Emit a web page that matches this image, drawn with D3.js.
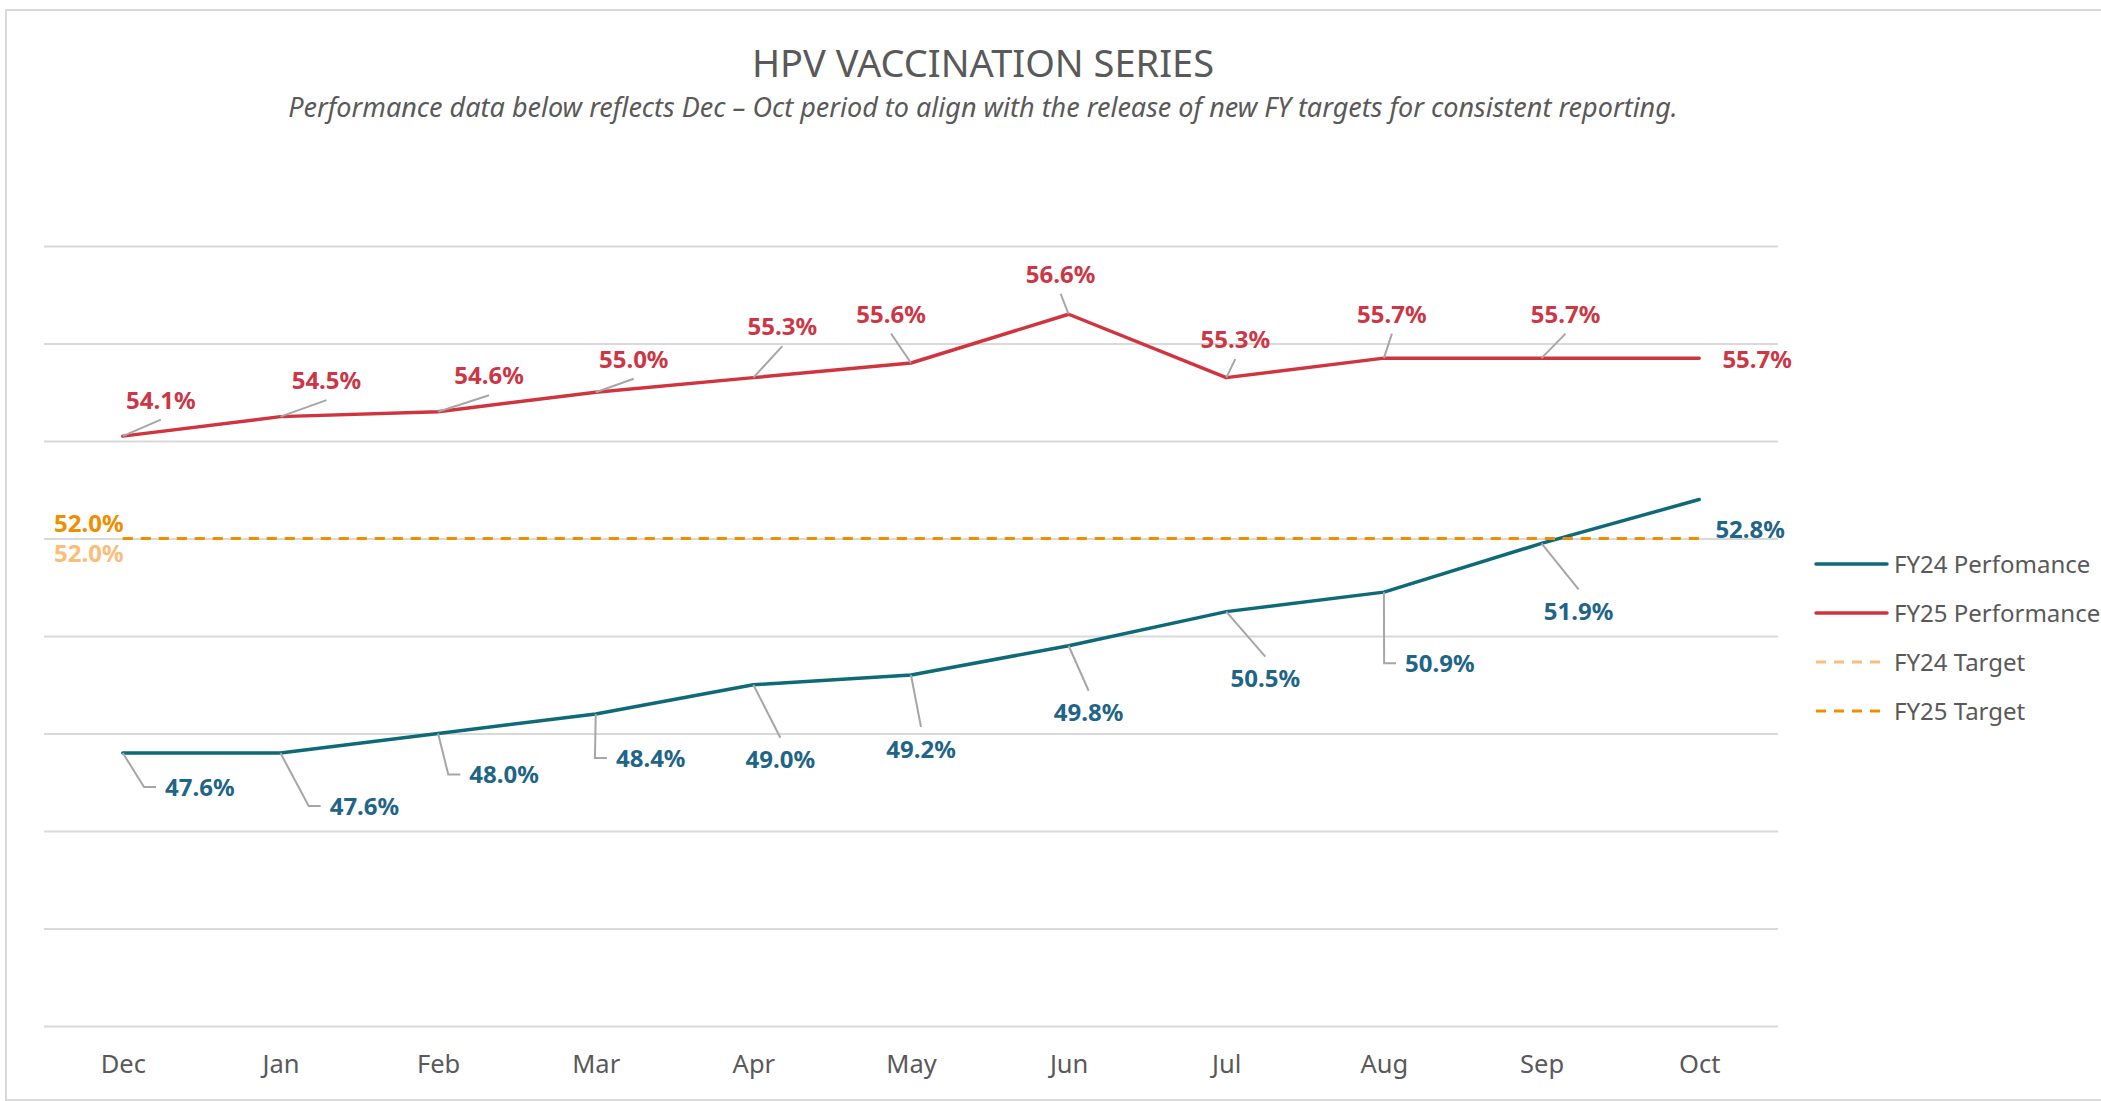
<!DOCTYPE html>
<html>
<head>
<meta charset="utf-8">
<script src="https://cdn.jsdelivr.net/npm/d3@7/dist/d3.min.js"></script>
<style>
  html, body { margin: 0; padding: 0; background: #fff; }
  svg { display: block; font-family: "Noto Sans", "Open Sans", sans-serif; }
</style>
</head>
<body>
<div id="chart"></div>
<script>
let width = 2101;
let height = 1101;

// chart data
let months = ["Dec", "Jan", "Feb", "Mar", "Apr", "May", "Jun", "Jul", "Aug", "Sep", "Oct"];
let fy24Perf = [47.6, 47.6, 48.0, 48.4, 49.0, 49.2, 49.8, 50.5, 50.9, 51.9, 52.8];
let fy25Perf = [54.1, 54.5, 54.6, 55.0, 55.3, 55.6, 56.6, 55.3, 55.7, 55.7, 55.7];
let fy24Target = [52.0, 52.0, 52.0, 52.0, 52.0, 52.0, 52.0, 52.0, 52.0, 52.0, 52.0];
let fy25Target = [52.0, 52.0, 52.0, 52.0, 52.0, 52.0, 52.0, 52.0, 52.0, 52.0, 52.0];
let gridTicks = [42, 44, 46, 48, 50, 52, 54, 56, 58];
let seriesNames = ["FY24 Perfomance", "FY25 Performance", "FY24 Target", "FY25 Target"];

// label placement (pixel offset of label centre from its point, and leader type)
let fy25LabelPos = [
  [38, -36, "line"], [46, -36, "line"], [51, -36, "line"], [38, -33, "line"],
  [29, -51, "line"], [-20, -49, "line"], [-8, -40, "line"], [9, -38, "line"],
  [8, -44, "line"], [24, -44, "line"], [58, 1, "none"]
];
let fy24LabelPos = [
  [77, 34, "elbow"], [84, 53, "elbow"], [66, 41, "elbow"], [55, 44, "elbow"],
  [27, 75, "line"], [10, 74, "line"], [20, 67, "line"], [39, 67, "line"],
  [56, 71, "elbow"], [37, 68, "line"], [51, 30, "none"]
];

let colors = {
  fy24: "#0F6A78", fy24Label: "#1F6587",
  fy25: "#D0343F", fy25Label: "#CC3645",
  fy24Target: "#F9BE7A", fy25Target: "#F18D00",
  grid: "#D9D9D9", text: "#595959", leader: "#A6A6A6"
};

let svg = d3.select("#chart").append("svg")
    .attr("width", width)
    .attr("height", height);

// outer frame
svg.append("rect")
    .attr("x", 6).attr("y", 10)
    .attr("width", width + 20).attr("height", height - 11)
    .attr("fill", "none")
    .attr("stroke", colors.grid)
    .attr("stroke-width", 2);

// titles
svg.append("text")
    .attr("x", 983).attr("y", 77)
    .attr("text-anchor", "middle")
    .attr("font-size", 38)
    .attr("fill", colors.text)
    .text("HPV VACCINATION SERIES");

svg.append("text")
    .attr("x", 983).attr("y", 116.5)
    .attr("text-anchor", "middle")
    .attr("font-size", 27)
    .attr("font-style", "italic")
    .attr("fill", colors.text)
    .text("Performance data below reflects Dec \u2013 Oct period to align with the release of new FY targets for consistent reporting.");

let xScale = d3.scalePoint()
    .domain(months)
    .range([44, 1778])
    .padding(0.5);

let yScale = d3.scaleLinear()
    .domain([42, 58])
    .range([1026, 246]);

// gridlines
svg.append("g")
    .attr("class", "grid")
    .attr("transform", "translate(44,0)")
    .call(d3.axisLeft(yScale).tickValues(gridTicks).tickSize(-(1778 - 44)).tickFormat(""))
    .call(g => g.select(".domain").remove())
    .call(g => g.selectAll(".tick line").attr("stroke", colors.grid).attr("stroke-width", 2));

// x axis labels
svg.append("g")
    .attr("transform", "translate(0,1026)")
    .call(d3.axisBottom(xScale).tickSize(0).tickPadding(0))
    .call(g => g.select(".domain").remove())
    .call(g => g.selectAll("text")
        .attr("y", 47)
        .attr("dy", 0)
        .attr("font-family", "Noto Sans")
        .attr("font-size", 25.5)
        .attr("fill", colors.text));

let line = d3.line()
    .x((d, i) => xScale(months[i]))
    .y(d => yScale(d));

// series lines
svg.append("path").datum(fy24Perf)
    .attr("d", line).attr("fill", "none")
    .attr("stroke", colors.fy24).attr("stroke-width", 3.5)
    .attr("stroke-linejoin", "round").attr("stroke-linecap", "round");

svg.append("path").datum(fy25Perf)
    .attr("d", line).attr("fill", "none")
    .attr("stroke", colors.fy25).attr("stroke-width", 3.5)
    .attr("stroke-linejoin", "round").attr("stroke-linecap", "round");

svg.append("path").datum(fy24Target)
    .attr("d", line).attr("fill", "none")
    .attr("stroke", colors.fy24Target).attr("stroke-width", 3)
    .attr("stroke-dasharray", "10,8");

svg.append("path").datum(fy25Target)
    .attr("d", line).attr("fill", "none")
    .attr("stroke", colors.fy25Target).attr("stroke-width", 3)
    .attr("stroke-dasharray", "10,8");

let fmt = d => d.toFixed(1) + "%";

// data labels with leader lines
function drawLabels(values, pos, color) {
  let g = svg.append("g");
  values.forEach(function(v, i) {
    let px = xScale(months[i]);
    let py = yScale(v);
    let cx = px + pos[i][0];
    let cy = py + pos[i][1];
    let kind = pos[i][2];

    let t = g.append("text")
        .attr("x", cx)
        .attr("y", cy + 8.5)
        .attr("text-anchor", "middle")
        .attr("font-size", 24)
        .attr("font-weight", 700)
        .attr("fill", color)
        .text(fmt(v));

    let w = t.node().getComputedTextLength();
    let left = cx - w / 2;

    if (kind == "line") {
      let ey = cy < py ? cy + 19.5 : cy - 22;
      g.insert("line", "text")
          .attr("x1", px).attr("y1", py)
          .attr("x2", cx).attr("y2", ey)
          .attr("stroke", colors.leader).attr("stroke-width", 2);
    } else if (kind == "elbow") {
      g.insert("path", "text")
          .attr("d", `M${px},${py}L${left - 21},${cy}L${left - 9},${cy}`)
          .attr("fill", "none")
          .attr("stroke", colors.leader).attr("stroke-width", 2);
    }
  });
}

drawLabels(fy25Perf, fy25LabelPos, colors.fy25Label);
drawLabels(fy24Perf, fy24LabelPos, colors.fy24Label);

// target labels at first point
svg.append("text")
    .attr("x", xScale(months[0]) - 34)
    .attr("y", yScale(fy25Target[0]) - 15.5 + 8.5)
    .attr("text-anchor", "middle")
    .attr("font-size", 24).attr("font-weight", 700)
    .attr("fill", colors.fy25Target)
    .text(fmt(fy25Target[0]));

svg.append("text")
    .attr("x", xScale(months[0]) - 34)
    .attr("y", yScale(fy24Target[0]) + 14.5 + 8.5)
    .attr("text-anchor", "middle")
    .attr("font-size", 24).attr("font-weight", 700)
    .attr("fill", colors.fy24Target)
    .text(fmt(fy24Target[0]));

// legend
let legendStyle = [
  { color: colors.fy24, dash: null },
  { color: colors.fy25, dash: null },
  { color: colors.fy24Target, dash: "10,8" },
  { color: colors.fy25Target, dash: "10,8" }
];

let legend = svg.append("g").attr("transform", "translate(1816,564)");

seriesNames.forEach(function(name, i) {
  let row = legend.append("g").attr("transform", `translate(0,${i * 49})`);
  row.append("line")
      .attr("x1", 0).attr("x2", 71)
      .attr("stroke", legendStyle[i].color)
      .attr("stroke-width", legendStyle[i].dash ? 3 : 3.5)
      .attr("stroke-linecap", legendStyle[i].dash ? "butt" : "round")
      .attr("stroke-dasharray", legendStyle[i].dash);
  row.append("text")
      .attr("x", 78).attr("y", 8.5)
      .attr("font-size", 24)
      .attr("fill", colors.text)
      .text(name);
});
</script>
</body>
</html>
